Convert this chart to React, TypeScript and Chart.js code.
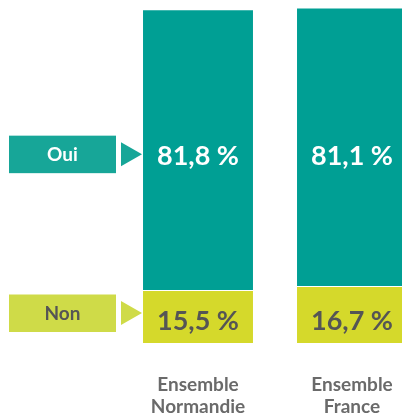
import React, { useEffect, useRef } from "react";
import { Chart, registerables } from "chart.js";

Chart.register(...registerables);

const categories: string[][] = [["Ensemble", "Normandie"], ["Ensemble", "France"]];
const ouiValues = [81.8, 81.1];
const nonValues = [15.5, 16.7];
const ouiLabels = ["81,8 %", "81,1 %"];
const nonLabels = ["15,5 %", "16,7 %"];
const seriesNames = ["Oui", "Non"];

const TEAL = "#009f94";
const TEAL_BOX = "#17a698";
const LIME = "#d5d92b";
const LIME_BOX = "#cfdb48";
const DARK = "#555555";

const overlayPlugin = {
  id: "overlay",
  afterDatasetsDraw(chart: any) {
    const ctx = chart.ctx;
    const y = chart.scales.y;
    const metaNon = chart.getDatasetMeta(0);
    const metaOui = chart.getDatasetMeta(1);
    const ouiBase = y.getPixelForValue(52);
    const nonBase = y.getPixelForValue(0) - 13;
    ctx.save();
    ctx.font = "bold 27px Lato";
    ctx.textAlign = "center";
    ctx.textBaseline = "alphabetic";
    metaOui.data.forEach((bar: any, i: number) => {
      ctx.fillStyle = "#ffffff";
      ctx.fillText(ouiLabels[i], bar.x, ouiBase);
    });
    metaNon.data.forEach((bar: any, i: number) => {
      ctx.fillStyle = DARK;
      ctx.fillText(nonLabels[i], bar.x, nonBase);
    });

    // side legend boxes
    const rows = [
      { name: seriesNames[0], mid: ouiBase - 11, box: TEAL_BOX, text: "#ffffff" },
      { name: seriesNames[1], mid: nonBase - 17, box: LIME_BOX, text: DARK },
    ];
    rows.forEach((r) => {
      ctx.fillStyle = r.box;
      ctx.fillRect(9, r.mid - 18.5, 107, 37.5);
      ctx.beginPath();
      ctx.moveTo(121, r.mid - 12);
      ctx.lineTo(142, r.mid);
      ctx.lineTo(121, r.mid + 12);
      ctx.closePath();
      ctx.fill();
      ctx.fillStyle = r.text;
      ctx.font = "bold 19px Lato";
      ctx.textBaseline = "middle";
      ctx.fillText(r.name, 62.5, r.mid + 1);
    });
    ctx.restore();
  },
};

export default function App() {
  const ref = useRef<HTMLCanvasElement>(null);
  useEffect(() => {
    if (!ref.current) return;
    const chart = new Chart(ref.current, {
      type: "bar",
      data: {
        labels: categories as any,
        datasets: [
          {
            label: seriesNames[1],
            data: nonValues,
            backgroundColor: LIME,
            borderColor: "#ffffff",
            borderWidth: { top: 1, left: 0, right: 0, bottom: 0 } as any,
            borderSkipped: false,
          },
          {
            label: seriesNames[0],
            data: ouiValues,
            backgroundColor: TEAL,
            borderWidth: 0,
          },
        ],
      },
      options: {
        responsive: false,
        animation: false,
        layout: { padding: { left: 121, right: 11, top: 1, bottom: 0 } },
        datasets: { bar: { categoryPercentage: 0.714, barPercentage: 1 } },
        plugins: { legend: { display: false }, tooltip: { enabled: false } },
        scales: {
          x: {
            stacked: true,
            grid: { display: false, drawTicks: false },
            border: { display: false },
            ticks: {
              color: "#6a6a6a",
              font: { family: "Lato", weight: "bold", size: 19, lineHeight: 1.16 },
              padding: 31,
              maxRotation: 0,
            },
            afterFit: (scale: any) => {
              scale.height = 75;
            },
          },
          y: {
            stacked: true,
            display: false,
            min: 0,
            max: 100,
          },
        },
      },
      plugins: [overlayPlugin],
    });
    return () => chart.destroy();
  }, []);
  return (
    <div
      style={{
        position: "fixed",
        left: 0,
        top: 0,
        width: 402,
        height: 418,
        overflow: "hidden",
        background: "#ffffff",
      }}
    >
      <canvas ref={ref} width={440} height={418} style={{ display: "block" }} />
    </div>
  );
}
